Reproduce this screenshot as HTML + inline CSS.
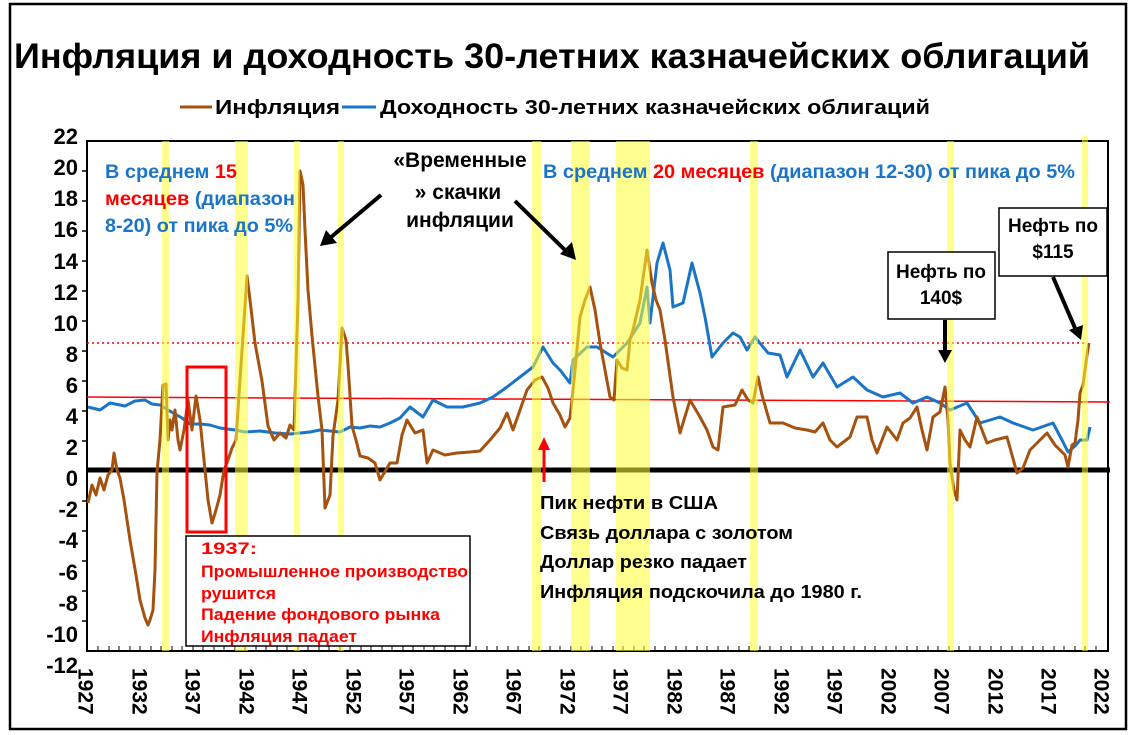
<!DOCTYPE html>
<html><head><meta charset="utf-8"><style>
html,body{margin:0;padding:0;background:#fff;}
svg{display:block;font-family:"Liberation Sans","DejaVu Sans",sans-serif;font-weight:bold;}
</style></head><body>
<svg width="1134" height="735" viewBox="0 0 1134 735" xmlns="http://www.w3.org/2000/svg">
<rect x="0" y="0" width="1134" height="735" fill="#fff"/>
<rect x="10" y="4" width="1116" height="725" fill="none" stroke="#000" stroke-width="2.5"/>
<text x="14" y="68" font-size="35" fill="#000" textLength="1076" lengthAdjust="spacingAndGlyphs">Инфляция и доходность 30-летних казначейских облигаций</text>
<line x1="180" y1="107" x2="212" y2="107" stroke="#a5520f" stroke-width="3"/>
<text x="215" y="114" font-size="20" textLength="125" lengthAdjust="spacingAndGlyphs">Инфляция</text>
<line x1="342" y1="107" x2="376" y2="107" stroke="#1a75c8" stroke-width="3"/>
<text x="380" y="114" font-size="20" textLength="550" lengthAdjust="spacingAndGlyphs">Доходность 30-летних казначейских облигаций</text>

<rect x="87" y="141" width="1021" height="510" fill="none" stroke="#000" stroke-width="2"/>
<g font-size="22" text-anchor="end">
<text x="78" y="144">22</text><text x="78" y="175">20</text><text x="78" y="206">18</text><text x="78" y="237">16</text><text x="78" y="269">14</text><text x="78" y="300">12</text><text x="78" y="331">10</text><text x="78" y="362">8</text><text x="78" y="393">6</text><text x="78" y="424">4</text><text x="78" y="455">2</text><text x="78" y="486">0</text><text x="78" y="517">-2</text><text x="78" y="548">-4</text><text x="78" y="580">-6</text><text x="78" y="611">-8</text><text x="78" y="642">-10</text><text x="78" y="673">-12</text>
</g>
<g stroke="#000" stroke-width="1.5">
<line x1="82" y1="171" x2="87" y2="171"/><line x1="82" y1="201" x2="87" y2="201"/><line x1="82" y1="231" x2="87" y2="231"/><line x1="82" y1="261" x2="87" y2="261"/><line x1="82" y1="291" x2="87" y2="291"/><line x1="82" y1="321" x2="87" y2="321"/><line x1="82" y1="351" x2="87" y2="351"/><line x1="82" y1="381" x2="87" y2="381"/><line x1="82" y1="411" x2="87" y2="411"/><line x1="82" y1="441" x2="87" y2="441"/><line x1="82" y1="501" x2="87" y2="501"/><line x1="82" y1="531" x2="87" y2="531"/><line x1="82" y1="561" x2="87" y2="561"/><line x1="82" y1="591" x2="87" y2="591"/><line x1="82" y1="621" x2="87" y2="621"/>
</g>
<path d="M98,651v-5M109,651v-5M119,651v-5M130,651v-5M140,651v-5M151,651v-5M161,651v-5M172,651v-5M182,651v-5M193,651v-5M203,651v-5M214,651v-5M224,651v-5M235,651v-5M245,651v-5M256,651v-5M266,651v-5M277,651v-5M287,651v-5M298,651v-5M308,651v-5M319,651v-5M329,651v-5M340,651v-5M350,651v-5M361,651v-5M371,651v-5M382,651v-5M392,651v-5M403,651v-5M413,651v-5M424,651v-5M434,651v-5M445,651v-5M455,651v-5M466,651v-5M476,651v-5M487,651v-5M497,651v-5M508,651v-5M518,651v-5M529,651v-5M539,651v-5M550,651v-5M560,651v-5M571,651v-5M581,651v-5M592,651v-5M602,651v-5M613,651v-5M623,651v-5M634,651v-5M644,651v-5M655,651v-5M665,651v-5M676,651v-5M686,651v-5M697,651v-5M707,651v-5M718,651v-5M728,651v-5M739,651v-5M749,651v-5M760,651v-5M770,651v-5M781,651v-5M791,651v-5M802,651v-5M812,651v-5M823,651v-5M833,651v-5M844,651v-5M854,651v-5M865,651v-5M875,651v-5M886,651v-5M896,651v-5M907,651v-5M917,651v-5M928,651v-5M938,651v-5M949,651v-5M959,651v-5M970,651v-5M980,651v-5M991,651v-5M1001,651v-5M1012,651v-5M1022,651v-5M1033,651v-5M1043,651v-5M1054,651v-5M1064,651v-5M1075,651v-5M1085,651v-5M1096,651v-5" stroke="#000" stroke-width="1"/>
<g font-size="21" dominant-baseline="middle">
<text transform="translate(84,668) rotate(90)">1927</text>
<text transform="translate(138,668) rotate(90)">1932</text>
<text transform="translate(191,668) rotate(90)">1937</text>
<text transform="translate(245,668) rotate(90)">1942</text>
<text transform="translate(298,668) rotate(90)">1947</text>
<text transform="translate(352,668) rotate(90)">1952</text>
<text transform="translate(405,668) rotate(90)">1957</text>
<text transform="translate(459,668) rotate(90)">1962</text>
<text transform="translate(512,668) rotate(90)">1967</text>
<text transform="translate(566,668) rotate(90)">1972</text>
<text transform="translate(619,668) rotate(90)">1977</text>
<text transform="translate(673,668) rotate(90)">1982</text>
<text transform="translate(726,668) rotate(90)">1987</text>
<text transform="translate(780,668) rotate(90)">1992</text>
<text transform="translate(833,668) rotate(90)">1997</text>
<text transform="translate(887,668) rotate(90)">2002</text>
<text transform="translate(940,668) rotate(90)">2007</text>
<text transform="translate(994,668) rotate(90)">2012</text>
<text transform="translate(1047,668) rotate(90)">2017</text>
<text transform="translate(1100,668) rotate(90)">2022</text>
</g>

<line x1="87" y1="470" x2="1110" y2="470" stroke="#000" stroke-width="5"/>
<line x1="87" y1="397" x2="1110" y2="402" stroke="#ff0000" stroke-width="1.5"/>
<line x1="87" y1="343" x2="1087" y2="343" stroke="#ff0000" stroke-width="1.5" stroke-dasharray="2,3"/>

<polyline fill="none" stroke="#1a75c8" stroke-width="3" stroke-linejoin="round" points="88,407 100,410 110,403 125,406 135,401 145,400 152,404 160,405 168,410 175,414 182,418 190,424 200,424 210,425 220,428 235,430 245,432 260,431 275,433 290,434 300,433 310,432 320,430 330,431 340,432 350,427 360,428 370,426 380,427 390,423 400,418 410,407 423,417 433,400 447,407 463,407 480,403 493,397 507,387 520,377 533,367 543,347 553,363 560,370 570,383 573,360 587,347 597,347 605,352 613,357 627,343 640,323 647,287 650,323 657,263 663,243 670,270 673,307 683,303 692,263 700,293 705,317 712,357 723,343 733,333 740,337 747,350 755,337 768,353 780,355 787,377 800,350 813,377 823,363 837,387 853,377 867,390 883,397 900,393 913,403 927,397 940,403 950,410 967,403 980,423 1000,417 1013,423 1033,430 1053,423 1062,440 1068,452 1075,446 1080,440 1087,440 1090,427"/>
<polyline fill="none" stroke="#a5520f" stroke-width="3" stroke-linejoin="round" points="88,503 92,485 96,495 100,478 104,490 108,475 112,470 114,453 117,470 120,478 124,500 130,540 136,575 140,600 145,618 148,625 150,620 153,610 155,570 157,472 160,440 163,385 166,384 168,440 170,420 172,430 175,410 178,440 180,450 184,430 188,400 192,430 196,396 200,420 204,460 208,500 212,523 216,510 220,495 224,470 228,460 232,448 236,440 240,380 244,321 247,276 250,300 255,343 262,381 268,426 274,440 280,433 286,438 290,425 294,430 298,300 300,171 303,185 305,230 308,290 312,336 318,396 322,430 325,508 330,495 333,436 338,400 342,328 346,340 348,365 352,426 356,440 360,456 368,458 375,463 380,480 390,463 397,463 402,435 407,420 415,433 423,430 427,463 433,450 445,455 457,453 470,452 480,451 490,440 500,428 507,413 513,430 520,410 527,390 535,380 542,377 548,388 553,403 560,415 565,427 570,418 573,390 576,360 580,317 585,300 590,287 595,310 600,343 605,370 610,397 614,400 617,360 622,368 627,370 630,340 633,330 640,300 647,250 652,283 656,300 660,310 665,340 673,397 680,433 690,400 700,417 707,430 713,447 718,450 723,407 735,405 742,390 748,400 753,403 758,377 762,395 770,423 783,423 795,428 807,430 815,432 823,423 830,440 837,447 850,437 857,417 867,417 872,440 877,453 887,427 897,440 903,423 910,418 917,407 922,430 927,450 933,417 940,412 945,387 948,420 950,463 954,490 957,500 960,430 965,440 970,447 977,417 987,443 995,440 1007,437 1012,455 1017,473 1023,468 1030,450 1040,440 1047,433 1055,445 1060,450 1065,455 1068,467 1072,445 1075,443 1078,420 1080,393 1083,385 1085,370 1087,355 1089,343"/>

<g fill="#ffff33" fill-opacity="0.55">
<rect x="162" y="141" width="7" height="510"/>
<rect x="235" y="141" width="13" height="510"/>
<rect x="294" y="141" width="6" height="510"/>
<rect x="338" y="141" width="6" height="510"/>
<rect x="532" y="141" width="9" height="510"/>
<rect x="571" y="141" width="19" height="510"/>
<rect x="616" y="141" width="34" height="510"/>
<rect x="750" y="141" width="8" height="510"/>
<rect x="947" y="141" width="7" height="510"/>
<rect x="1082" y="136" width="6" height="515"/>
</g>

<rect x="187" y="367" width="39" height="165" fill="none" stroke="#ff0000" stroke-width="3"/>
<rect x="186" y="536" width="284" height="110" fill="#fff" stroke="#000" stroke-width="1.5"/>
<g font-size="17" fill="#ff0000" lengthAdjust="spacingAndGlyphs">
<text x="201" y="554" textLength="56" lengthAdjust="spacingAndGlyphs">1937:</text>
<text x="201" y="577" textLength="267" lengthAdjust="spacingAndGlyphs">Промышленное производство</text>
<text x="201" y="599" textLength="75" lengthAdjust="spacingAndGlyphs">рушится</text>
<text x="201" y="620" textLength="239" lengthAdjust="spacingAndGlyphs">Падение фондового рынка</text>
<text x="201" y="642" textLength="156" lengthAdjust="spacingAndGlyphs">Инфляция падает</text>
</g>

<g font-size="19">
<text x="105" y="178" fill="#1a75c8" textLength="132" lengthAdjust="spacingAndGlyphs">В среднем <tspan fill="#ff0000">15</tspan></text>
<text x="105" y="205" fill="#ff0000" textLength="190" lengthAdjust="spacingAndGlyphs">месяцев <tspan fill="#1a75c8">(диапазон</tspan></text>
<text x="105" y="232" fill="#1a75c8" textLength="188" lengthAdjust="spacingAndGlyphs">8-20) от пика до 5%</text>
<text x="543" y="178" fill="#1a75c8" textLength="532" lengthAdjust="spacingAndGlyphs">В среднем <tspan fill="#ff0000">20 месяцев</tspan> (диапазон 12-30) от пика до 5%</text>
</g>
<g font-size="21" text-anchor="middle">
<text x="460" y="167">«Временные</text>
<text x="458" y="199">» скачки</text>
<text x="460" y="227">инфляции</text>
</g>
<g stroke="#000" stroke-width="4">
<line x1="381" y1="195" x2="330" y2="238"/>
<line x1="515" y1="201" x2="568" y2="253"/>
<line x1="945" y1="320" x2="945" y2="352"/>
<line x1="1053" y1="277" x2="1075" y2="328"/>
</g>
<g fill="#000">
<polygon points="320,246 326,230 337,243"/>
<polygon points="576,260 560,254 572,242"/>
<polygon points="945,363 938,350 952,350"/>
<polygon points="1081,340 1069,330 1083,325"/>
</g>
<rect x="888" y="252" width="107" height="67" fill="#fff" stroke="#000" stroke-width="1.5"/>
<text x="941" y="278" font-size="19" text-anchor="middle">Нефть по</text>
<text x="941" y="304" font-size="19" text-anchor="middle">140$</text>
<rect x="999" y="208" width="108" height="68" fill="#fff" stroke="#000" stroke-width="1.5"/>
<text x="1053" y="232" font-size="19" text-anchor="middle">Нефть по</text>
<text x="1053" y="258" font-size="19" text-anchor="middle">$115</text>

<line x1="544" y1="482" x2="544" y2="448" stroke="#ff0000" stroke-width="3"/>
<polygon points="544,437 538,450 550,450" fill="#ff0000"/>
<g font-size="18">
<text x="540" y="509" textLength="178" lengthAdjust="spacingAndGlyphs">Пик нефти в США</text>
<text x="540" y="539" textLength="253" lengthAdjust="spacingAndGlyphs">Связь доллара с золотом</text>
<text x="540" y="568" textLength="207" lengthAdjust="spacingAndGlyphs">Доллар резко падает</text>
<text x="540" y="598" textLength="322" lengthAdjust="spacingAndGlyphs">Инфляция подскочила до 1980 г.</text>
</g>
</svg>
</body></html>
